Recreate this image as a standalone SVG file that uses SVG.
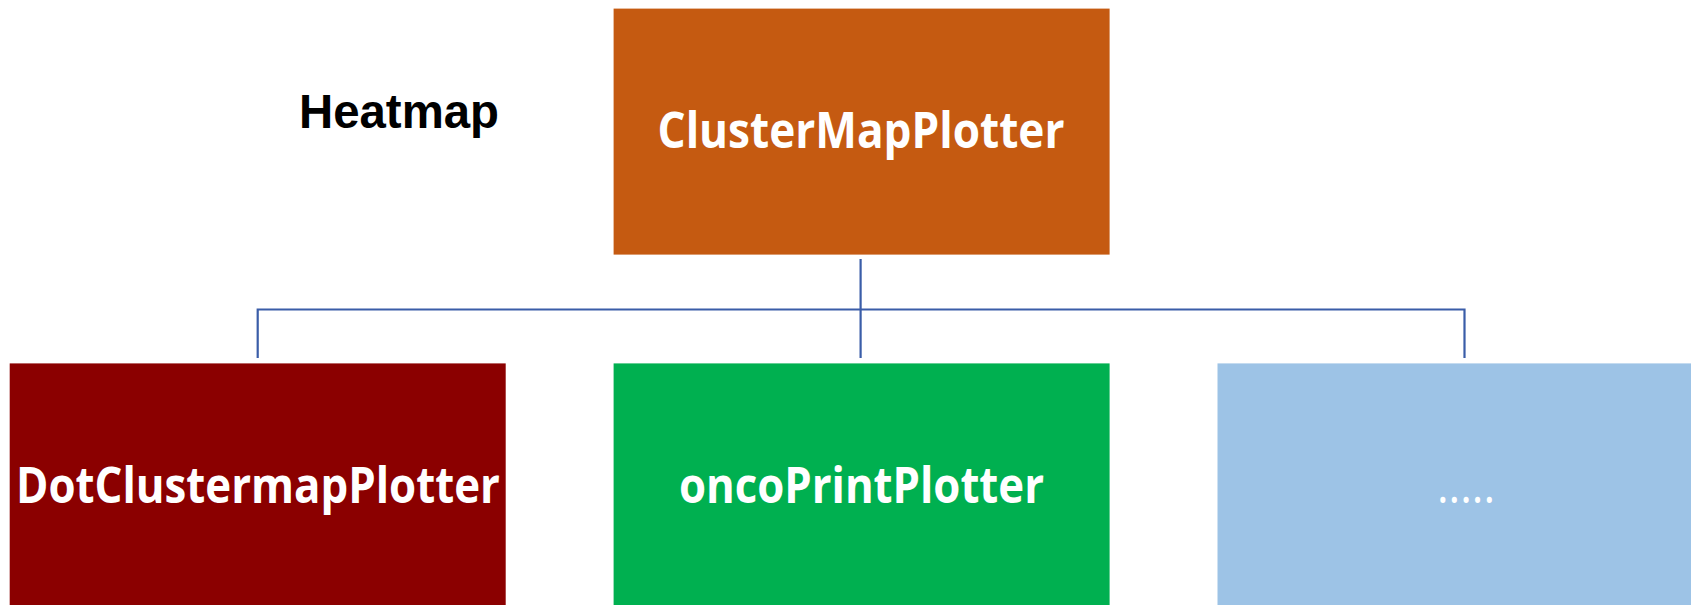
<svg xmlns="http://www.w3.org/2000/svg" width="1691" height="605" viewBox="0 0 1691 605">
<style>
.lbl{font-family:"Open Sans","Noto Sans","Liberation Sans",sans-serif;font-weight:700;fill:#ffffff;font-size:50px;text-anchor:middle}
.conn{stroke:#3A5DA8;stroke-width:2.2;fill:none}
.title{font-family:"Liberation Sans",Arial,sans-serif;font-weight:700;font-size:48px;fill:#000000}
</style>
<rect width="1691" height="605" fill="#ffffff"/>
<text class="title" x="299" y="128" textLength="200" lengthAdjust="spacingAndGlyphs">Heatmap</text>
<g id="connectors">
<path class="conn" d="M860.6 259 V309.5 M257.7 358 V309.5 H1464.5 V358 M860.6 309.5 V358"/>
</g>
<g id="node-clustermap">
<rect x="613.6" y="8.6" width="496" height="246" fill="#C55A11"/>
<text class="lbl" x="861" y="148" textLength="407" lengthAdjust="spacingAndGlyphs">ClusterMapPlotter</text>
</g>
<g id="node-dotclustermap">
<rect x="9.7" y="363.4" width="496" height="260" fill="#8B0000"/>
<text class="lbl" x="258" y="502.5" textLength="484" lengthAdjust="spacingAndGlyphs">DotClustermapPlotter</text>
</g>
<g id="node-oncoprint">
<rect x="613.6" y="363.4" width="496" height="260" fill="#00B050"/>
<text class="lbl" x="861.5" y="502.5" textLength="365" lengthAdjust="spacingAndGlyphs">oncoPrintPlotter</text>
</g>
<g id="node-more">
<rect x="1217.5" y="363.4" width="496" height="260" fill="#9DC3E6"/>
<text class="lbl" x="1466" y="502.5" textLength="58" lengthAdjust="spacingAndGlyphs" style="font-weight:400">.....</text>
</g>
</svg>
